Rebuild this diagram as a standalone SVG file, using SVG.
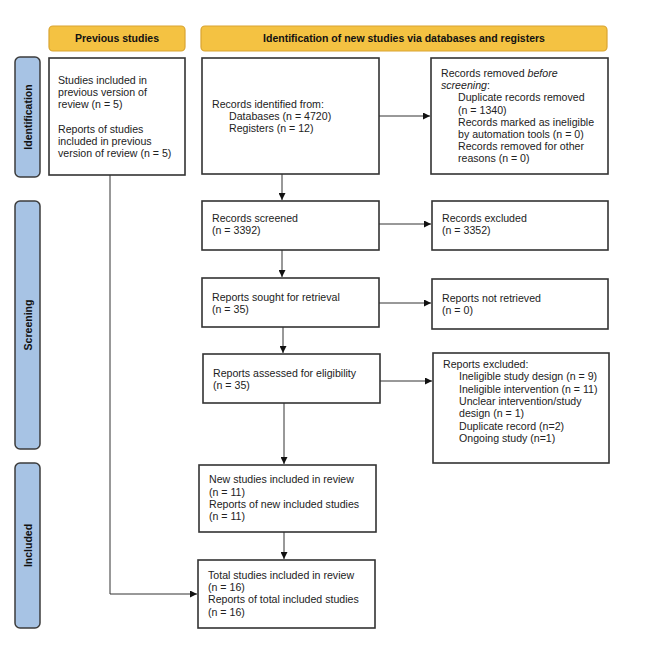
<svg xmlns="http://www.w3.org/2000/svg" width="653" height="662" viewBox="0 0 653 662">
<defs>
<marker id="ah" viewBox="0 0 10 10" refX="10" refY="5" markerWidth="7" markerHeight="7" markerUnits="userSpaceOnUse" orient="auto">
<path d="M0,0 L10,5 L0,10 Z" fill="#111"/>
</marker>
<style>
.hdr{fill:#F4C242;stroke:#D9A431;stroke-width:1.2}
.side{fill:#A7C3E4;stroke:#3c3c3c;stroke-width:1.5}
.box{fill:#fff;stroke:#333;stroke-width:1.6}
.ht{font-family:"Liberation Sans",Arial,sans-serif;font-size:10.5px;font-weight:bold;fill:#111;text-anchor:middle}
.t{font-family:"Liberation Sans",Arial,sans-serif;font-size:10.6px;fill:#222}
.ln{fill:none;stroke:#333;stroke-width:1}
</style>
</defs>
<rect width="653" height="662" fill="#fff"/>

<g id="hdr-previous"><rect class="hdr" x="49" y="26" width="136" height="25" rx="4"/><text class="ht" x="117" y="42">Previous studies</text></g>
<g id="hdr-new"><rect class="hdr" x="201" y="26" width="406" height="25" rx="4"/><text class="ht" x="404" y="42">Identification of new studies via databases and registers</text></g>

<g id="side-identification"><rect class="side" x="15" y="57" width="25" height="120" rx="5"/><text class="ht" transform="translate(31.5,117) rotate(-90)">Identification</text></g>
<g id="side-screening"><rect class="side" x="15" y="201" width="25" height="248" rx="5"/><text class="ht" transform="translate(31.5,325) rotate(-90)">Screening</text></g>
<g id="side-included"><rect class="side" x="15" y="463" width="25" height="165" rx="5"/><text class="ht" transform="translate(31.5,545.5) rotate(-90)">Included</text></g>

<g id="previous"><rect class="box" x="49" y="58" width="136" height="117"/>
<text class="t" x="58" y="84">Studies included in</text>
<text class="t" x="58" y="96.2">previous version of</text>
<text class="t" x="58" y="108.4">review (n = 5)</text>
<text class="t" x="58" y="132.5">Reports of studies</text>
<text class="t" x="58" y="144.7">included in previous</text>
<text class="t" x="58" y="157">version of review (n = 5)</text>
</g>

<g id="identified"><rect class="box" x="202" y="58" width="177" height="116"/>
<text class="t" x="212" y="107.5">Records identified from:</text>
<text class="t" x="229" y="119.8">Databases (n = 4720)</text>
<text class="t" x="229" y="132">Registers (n = 12)</text>
</g>

<g id="removed"><rect class="box" x="431" y="58" width="177" height="116"/>
<text class="t" x="441" y="77">Records removed <tspan font-style="italic">before</tspan></text>
<text class="t" x="441" y="89.2"><tspan font-style="italic">screening</tspan>:</text>
<text class="t" x="458" y="101.4">Duplicate records removed</text>
<text class="t" x="458" y="113.6">(n = 1340)</text>
<text class="t" x="458" y="125.8">Records marked as ineligible</text>
<text class="t" x="458" y="138">by automation tools (n = 0)</text>
<text class="t" x="458" y="150.2">Records removed for other</text>
<text class="t" x="458" y="162.4">reasons (n = 0)</text>
</g>

<g id="screened"><rect class="box" x="202" y="201" width="177" height="49"/>
<text class="t" x="212" y="222">Records screened</text>
<text class="t" x="212" y="234.2">(n = 3392)</text>
</g>
<g id="excluded"><rect class="box" x="432" y="201" width="176" height="49"/>
<text class="t" x="442" y="222">Records excluded</text>
<text class="t" x="442" y="234.2">(n = 3352)</text>
</g>

<g id="sought"><rect class="box" x="202" y="278" width="177" height="49"/>
<text class="t" x="212" y="300.5">Reports sought for retrieval</text>
<text class="t" x="212" y="312.7">(n = 35)</text>
</g>
<g id="notretrieved"><rect class="box" x="432" y="279" width="176" height="50"/>
<text class="t" x="442" y="301.5">Reports not retrieved</text>
<text class="t" x="442" y="313.7">(n = 0)</text>
</g>

<g id="assessed"><rect class="box" x="203" y="354" width="177" height="49"/>
<text class="t" x="213" y="376.5">Reports assessed for eligibility</text>
<text class="t" x="213" y="388.7">(n = 35)</text>
</g>
<g id="reportsexcluded"><rect class="box" x="433" y="353" width="176" height="110"/>
<text class="t" x="443" y="368">Reports excluded:</text>
<text class="t" x="459" y="380.3">Ineligible study design (n = 9)</text>
<text class="t" x="459" y="392.6">Ineligible intervention (n = 11)</text>
<text class="t" x="459" y="404.9">Unclear intervention/study</text>
<text class="t" x="459" y="417.2">design (n = 1)</text>
<text class="t" x="459" y="429.5">Duplicate record (n=2)</text>
<text class="t" x="459" y="441.8">Ongoing study (n=1)</text>
</g>

<g id="newincluded"><rect class="box" x="199" y="465" width="177" height="67"/>
<text class="t" x="209" y="483.3">New studies included in review</text>
<text class="t" x="209" y="495.5">(n = 11)</text>
<text class="t" x="209" y="507.7">Reports of new included studies</text>
<text class="t" x="209" y="519.9">(n = 11)</text>
</g>

<g id="total"><rect class="box" x="198" y="560" width="177" height="68"/>
<text class="t" x="208" y="579">Total studies included in review</text>
<text class="t" x="208" y="591.2">(n = 16)</text>
<text class="t" x="208" y="603.4">Reports of total included studies</text>
<text class="t" x="208" y="615.6">(n = 16)</text>
</g>

<g id="connectors">
<line class="ln" x1="282" y1="174" x2="282" y2="200" marker-end="url(#ah)"/>
<line class="ln" x1="282" y1="250" x2="282" y2="277" marker-end="url(#ah)"/>
<line class="ln" x1="283" y1="327" x2="283" y2="353" marker-end="url(#ah)"/>
<line class="ln" x1="284" y1="403" x2="284" y2="464" marker-end="url(#ah)"/>
<line class="ln" x1="284" y1="532" x2="284" y2="559" marker-end="url(#ah)"/>
<line class="ln" x1="379" y1="116" x2="430" y2="116" marker-end="url(#ah)"/>
<line class="ln" x1="379" y1="224" x2="431" y2="224" marker-end="url(#ah)"/>
<line class="ln" x1="379" y1="303" x2="431" y2="303" marker-end="url(#ah)"/>
<line class="ln" x1="380" y1="381" x2="432" y2="381" marker-end="url(#ah)"/>
<polyline class="ln" points="110,175 110,594 197,594" marker-end="url(#ah)"/>
</g>
</svg>
